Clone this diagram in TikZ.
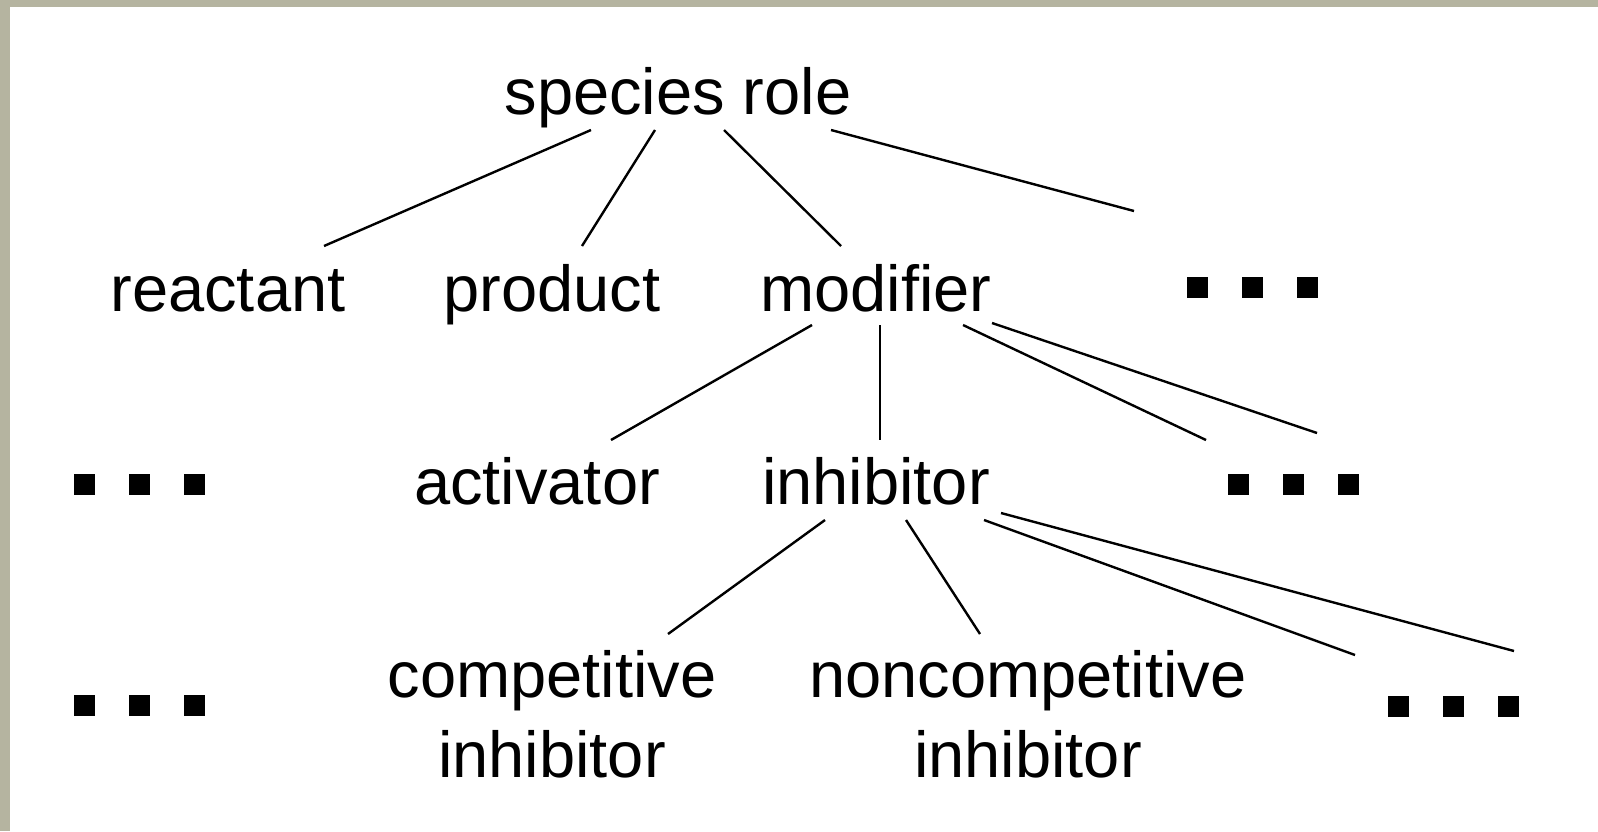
\documentclass[tikz,border=0pt]{standalone}
\usepackage{fontspec}
\setmainfont{Liberation Sans}
\definecolor{frame}{RGB}{181,180,160}
\newcommand{\sq}{\rule{10.5pt}{10.5pt}}
\newcommand{\threedots}{\sq\hspace{17pt}\sq\hspace{17pt}\sq}
\tikzset{
  lbl/.style={inner sep=0pt, anchor=base, font=\fontsize{32.5pt}{40pt}\selectfont, align=center},
  dotsbox/.style={inner sep=0pt, anchor=center},
  link/.style={line width=1.2pt, black}
}
\begin{document}
\begin{tikzpicture}[x=0.5pt,y=-0.5pt]
\useasboundingbox (0,0) rectangle (1598,831);
\fill[white] (0,0) rectangle (1598,831);
\fill[frame] (0,0) rectangle (1598,7);
\fill[frame] (0,0) rectangle (10,831);

\node[lbl] (sr) at (678,114) {species role};
\node[lbl] (reac) at (228,311) {reactant};
\node[lbl] (prod) at (552,311) {product};
\node[lbl] (mod) at (876,311) {modifier};
\node[dotsbox] (dtr) at (1252,287) {\threedots};

\node[dotsbox] (dml) at (139,484) {\threedots};
\node[lbl] (act) at (537,504) {activator};
\node[lbl] (inh) at (876,504) {inhibitor};
\node[dotsbox] (dmr) at (1293,484) {\threedots};

\node[dotsbox] (dbl) at (139,705) {\threedots};
\node[lbl] (comp) at (552,777) {competitive\\inhibitor};
\node[lbl] (ncomp) at (1028,777) {noncompetitive\\inhibitor};
\node[dotsbox] (dbr) at (1453,706) {\threedots};

\draw[link] ([shift={(-87,16)}]sr.base) -- ([shift={(96,-65)}]reac.base);
\draw[link] ([shift={(-23,16)}]sr.base) -- ([shift={(30,-65)}]prod.base);
\draw[link] ([shift={(46,16)}]sr.base) -- ([shift={(-35,-65)}]mod.base);
\draw[link] ([shift={(153,16)}]sr.base) -- ([shift={(-118,-76)}]dtr.center);

\draw[link] ([shift={(-64,14)}]mod.base) -- ([shift={(74,-64)}]act.base);
\draw[link] ([shift={(4,14)}]mod.base) -- ([shift={(4,-64)}]inh.base);
\draw[link] ([shift={(87,14)}]mod.base) -- ([shift={(-87,-44)}]dmr.center);
\draw[link] ([shift={(116,12)}]mod.base) -- ([shift={(24,-51)}]dmr.center);

\draw[link] ([shift={(-51,16)}]inh.base) -- ([shift={(116,-143)}]comp.base);
\draw[link] ([shift={(30,16)}]inh.base) -- ([shift={(-48,-143)}]ncomp.base);
\draw[link] ([shift={(108,16)}]inh.base) -- ([shift={(-98,-51)}]dbr.center);
\draw[link] ([shift={(125,9)}]inh.base) -- ([shift={(61,-55)}]dbr.center);
\end{tikzpicture}
\end{document}
